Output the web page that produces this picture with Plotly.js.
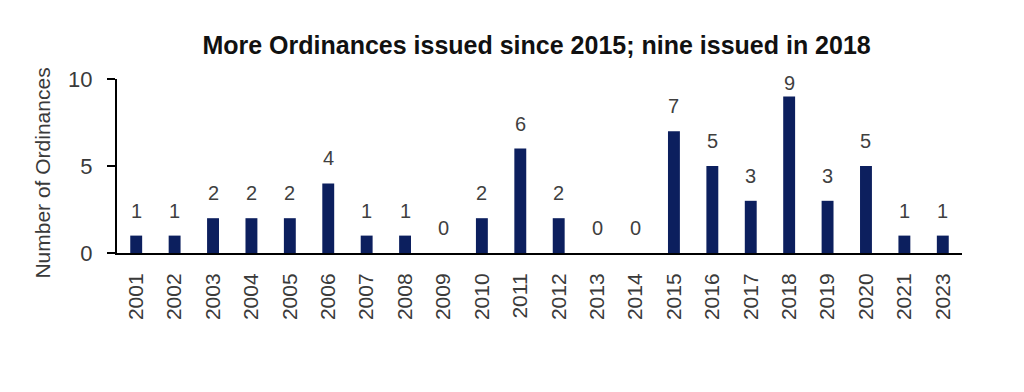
<!DOCTYPE html>
<html>
<head>
<meta charset="utf-8">
<script src="https://cdn.plot.ly/plotly-3.0.1.min.js"></script>
<style>
  html, body { margin: 0; padding: 0; background: #fff; }
  #chart { width: 1024px; height: 392px; }
</style>
</head>
<body>
<div id="chart"></div>
<script>
const years = ["2001","2002","2003","2004","2005","2006","2007","2008","2009","2010","2011","2012","2013","2014","2015","2016","2017","2018","2019","2020","2021","2023"];
const ordinances = [1,1,2,2,2,4,1,1,0,2,6,2,0,0,7,5,3,9,3,5,1,1];
const yTicks = [0, 5, 10];
const chartTitle = "More Ordinances issued since 2015; nine issued in 2018";
const yTitle = "Number of Ordinances";

const FONT = "'Liberation Sans Narrow', 'Arial Narrow', 'Liberation Sans', Arial, sans-serif";
const YMAX = 10;

const trace = {
  type: "bar",
  x: years,
  y: ordinances,
  marker: { color: "#0c1f5e" },
  hoverinfo: "x+y"
};

// value labels above bars; labels near the top of the axis are squeezed closer to the bar
const annotations = years.map((yr, i) => ({
  x: i,
  y: ordinances[i],
  xref: "x",
  yref: "y",
  text: String(ordinances[i]),
  showarrow: false,
  yanchor: "bottom",
  yshift: ordinances[i] >= YMAX - 1 ? 0 : 12,
  font: { family: FONT, size: 20, color: "#3f3f3f" }
}));

annotations.push({
  xref: "paper", yref: "paper",
  x: -0.088, y: 0.46,
  xanchor: "center", yanchor: "middle",
  textangle: -90,
  text: yTitle,
  showarrow: false,
  font: { family: FONT, size: 21, color: "#3a3a3a" }
});

const layout = {
  width: 1024,
  height: 392,
  margin: { l: 117, r: 62, t: 79, b: 139 },
  paper_bgcolor: "#fff",
  plot_bgcolor: "#fff",
  showlegend: false,
  bargap: 0.69,
  title: {
    text: "<b>" + chartTitle + "</b>",
    x: 0.524, xanchor: "center",
    y: 0.885, yanchor: "middle",
    font: { family: FONT, size: 25, color: "#111" }
  },
  xaxis: {
    type: "category",
    range: [-0.5, years.length - 0.5],
    showline: true, linecolor: "#000", linewidth: 2,
    showgrid: false, zeroline: false,
    ticks: "outside", ticklen: 10, tickcolor: "rgba(0,0,0,0)",
    tickangle: -90,
    tickfont: { family: FONT, size: 21, color: "#3a3a3a" }
  },
  yaxis: {
    range: [0, YMAX],
    tickvals: yTicks,
    ticktext: yTicks.map(String),
    showline: true, linecolor: "#000", linewidth: 2,
    showgrid: false, zeroline: false,
    ticks: "outside", ticklen: 8, tickwidth: 2, tickcolor: "#000",
    ticklabelstandoff: 10,
    tickfont: { family: FONT, size: 22, color: "#3a3a3a" }
  },
  annotations: annotations
};

Plotly.newPlot("chart", [trace], layout, { displayModeBar: false, staticPlot: true });
</script>
</body>
</html>
